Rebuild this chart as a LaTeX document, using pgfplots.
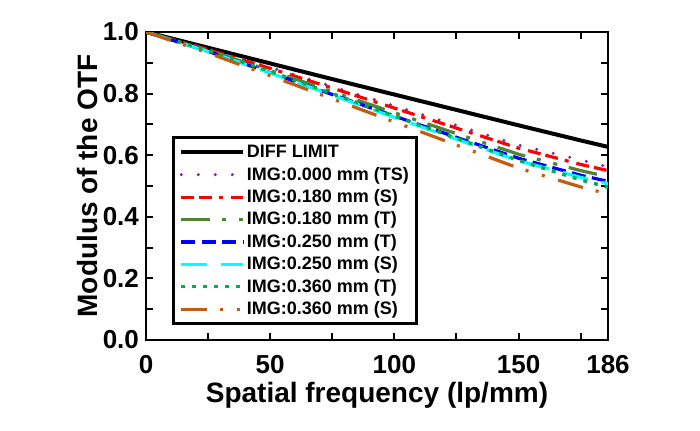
\documentclass[border=0pt]{standalone}
\usepackage{fontspec}
\setmainfont{Liberation Sans}
\usepackage{pgfplots}
\pgfplotsset{compat=1.18}
\definecolor{cpurple}{RGB}{112,48,160}
\definecolor{cred}{RGB}{255,0,0}
\definecolor{colive}{RGB}{84,130,53}
\definecolor{cblue}{RGB}{0,0,255}
\definecolor{ccyan}{RGB}{0,255,255}
\definecolor{cgreen}{RGB}{0,176,80}
\definecolor{corange}{RGB}{197,90,17}
\begin{document}
\begin{tikzpicture}
\begin{axis}[
  at={(0,0)}, anchor=south west,
  width=231pt, height=154pt, scale only axis,
  xmin=0, xmax=186, ymin=0, ymax=1,
  xtick={0,50,100,150,186},
  minor xtick={25,75,125,175},
  ytick={0,0.2,0.4,0.6,0.8,1.0},
  minor ytick={0.1,0.3,0.5,0.7,0.9},
  yticklabel style={/pgf/number format/.cd,fixed,fixed zerofill,precision=1},
  xticklabel style={yshift=-4pt},
  tick align=inside,
  major tick length=3.5pt, minor tick length=3.5pt,
  tick style={line width=1pt, black},
  axis line style={line width=1.35pt},
  /pgf/number format/assume math mode=true,
  ticklabel style={font=\fontsize{13}{15}\selectfont\bfseries},
  label style={font=\fontsize{14}{16}\selectfont\bfseries},
  xlabel={Spatial frequency (lp/mm)},
  ylabel={Modulus of the OTF},
  xlabel style={yshift=2.5pt},
  ylabel style={yshift=-4.5pt},
  legend cell align=left,
  legend style={at={(rel axis cs:0.0563,0.0487)}, anchor=south west,
    draw=black, line width=1.3pt, font=\fontsize{9}{10}\selectfont\bfseries,
    nodes={inner sep=0.8pt, text depth=1.8pt, text height=7.2pt},
    row sep=0.6pt, inner xsep=3pt, inner ysep=2pt},
  legend image code/.code={\draw[#1] (0pt,0pt) -- (31pt,0pt);},
]
\addplot[black, line width=2pt] coordinates {
(0,1.0) (25,0.949) (50,0.898) (75,0.847) (100,0.797) (125,0.747) (150,0.697) (175,0.648) (186,0.627)};
\addlegendentry{DIFF LIMIT}
\addplot[cpurple, line width=1.7pt, line cap=round, dash pattern=on 0pt off 8.5pt] coordinates {
(0,1.0) (25,0.945) (50,0.885) (75,0.823) (100,0.760) (125,0.697) (150,0.633) (175,0.585) (186,0.562)};
\addlegendentry{IMG:0.000 mm (TS)}
\addplot[cred, line width=1.6pt, dash pattern=on 6.5pt off 2.5pt on 6.5pt off 3.5pt on 2pt off 4pt] coordinates {
(0,1.0) (25,0.943) (50,0.882) (75,0.818) (100,0.753) (125,0.688) (150,0.623) (175,0.570) (186,0.550)};
\addlegendentry{IMG:0.180 mm (S)}
\addplot[colive, line width=1.6pt, dash pattern=on 14.5pt off 6pt on 2pt off 6.5pt on 2pt off 6pt] coordinates {
(0,1.0) (25,0.940) (50,0.875) (75,0.806) (100,0.738) (125,0.670) (150,0.603) (175,0.550) (186,0.530)};
\addlegendentry{IMG:0.180 mm (T)}
\addplot[cblue, line width=1.6pt, dash pattern=on 7pt off 3.2pt] coordinates {
(0,1.0) (25,0.937) (50,0.868) (75,0.797) (100,0.727) (125,0.658) (150,0.590) (175,0.535) (186,0.515)};
\addlegendentry{IMG:0.250 mm (T)}
\addplot[ccyan, line width=1.6pt, dash pattern=on 13pt off 7pt] coordinates {
(0,1.0) (25,0.937) (50,0.867) (75,0.795) (100,0.723) (125,0.652) (150,0.582) (175,0.528) (186,0.507)};
\addlegendentry{IMG:0.250 mm (S)}
\addplot[cgreen, line width=1.7pt, dash pattern=on 2pt off 3.5pt] coordinates {
(0,1.0) (25,0.940) (50,0.872) (75,0.800) (100,0.727) (125,0.655) (150,0.583) (175,0.520) (186,0.496)};
\addlegendentry{IMG:0.360 mm (T)}
\addplot[corange, line width=1.6pt, dash pattern=on 13pt off 6.5pt on 1.5pt off 7pt on 1.5pt off 7pt] coordinates {
(0,1.0) (25,0.932) (50,0.858) (75,0.783) (100,0.708) (125,0.633) (150,0.558) (175,0.497) (186,0.474)};
\addlegendentry{IMG:0.360 mm (S)}
\end{axis}
\path[use as bounding box] (-73pt,-45pt) rectangle (277pt,170pt);
\end{tikzpicture}
\end{document}
